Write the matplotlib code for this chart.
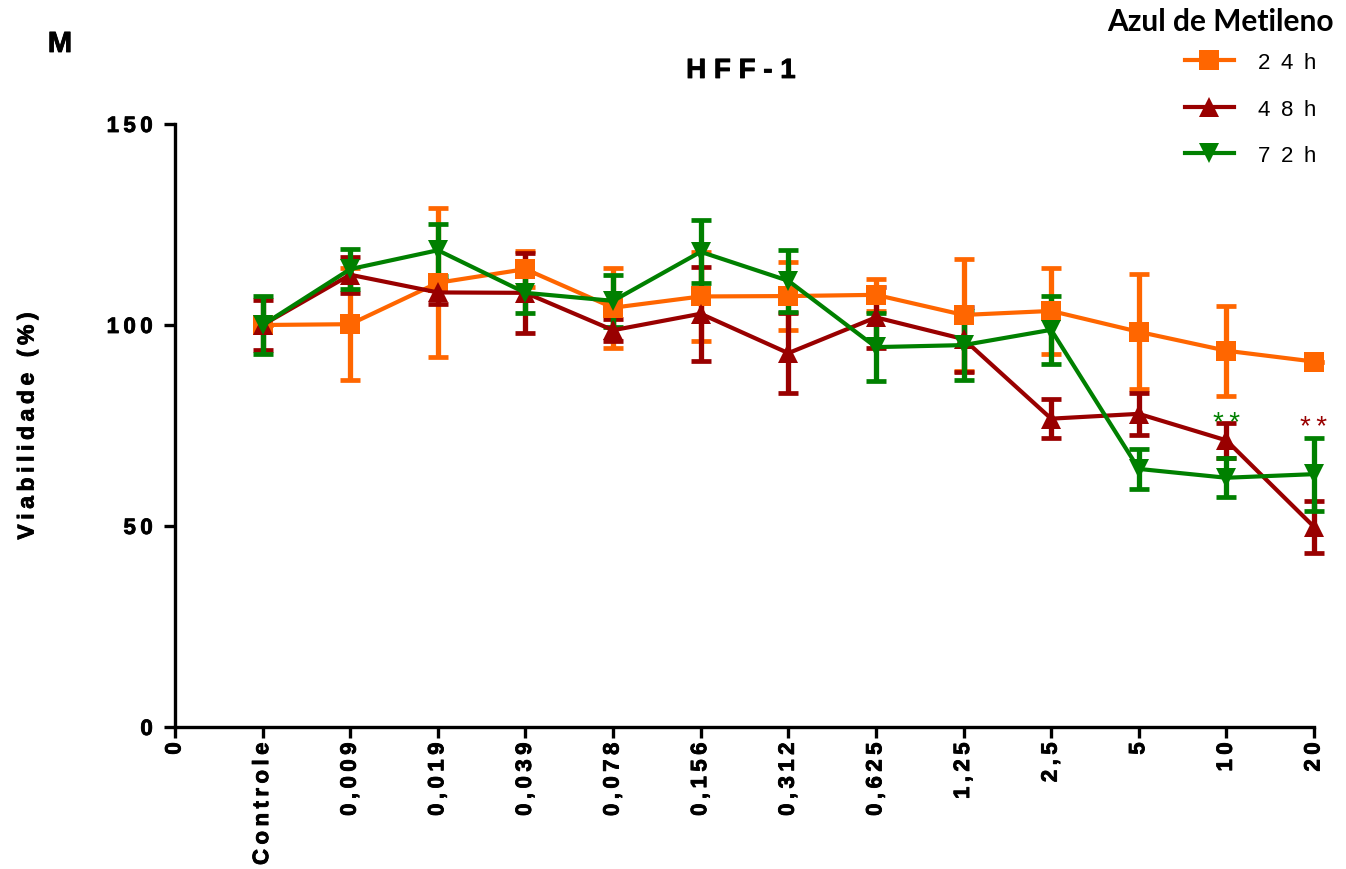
import numpy as np
import matplotlib
matplotlib.use("Agg")
import matplotlib.pyplot as plt
import matplotlib.patheffects as pe

# Concentrations (x categories) and viability data (mean, SD) per exposure time
categories = ["Controle", "0,009", "0,019", "0,039", "0,078", "0,156", "0,312",
              "0,625", "1,25", "2,5", "5", "10", "20"]
tick_labels = ["0"] + categories

mean_24h = [100, 100.2, 110.5, 113.9, 104.3, 107.1, 107.2, 107.5, 102.5, 103.5, 98.3, 93.6, 90.9]
sd_24h = [0, 14, 18.5, 4.5, 10, 11, 8.5, 4, 14, 10.8, 14.3, 11.2, 0]

mean_48h = [100, 112.5, 108.1, 108.0, 98.7, 102.8, 93.0, 101.9, 96.5, 76.7, 77.9, 71.3, 49.8]
sd_48h = [6.2, 4.5, 3, 10, 2.7, 11.7, 10, 7.5, 8.1, 4.9, 5.3, 4.3, 6.4]

mean_72h = [100, 113.9, 118.6, 108.0, 106.0, 118.2, 111.0, 94.5, 95.0, 98.8, 64.2, 62.0, 62.9]
sd_72h = [7.2, 5, 6.5, 5, 6.5, 7.8, 7.7, 8.4, 8.6, 8.5, 5, 4.8, 9.1]

series_labels = ["24h", "48h", "72h"]
colors = ["#FF6600", "#990000", "#008000"]
markers = ["s", "^", "v"]

# significance marks: (category index, baseline y value, series index)
signif = [(11, 74.0, 2), (12, 72.8, 1)]

FAM = ["Liberation Sans", "DejaVu Sans"]
plt.rcParams["font.family"] = FAM
heavy = [pe.withStroke(linewidth=0.6, foreground="black")]


def spaced(s, sep="\u2009"):
    return sep.join(s)


fig = plt.figure(figsize=(13.46, 8.70), dpi=100)
ax = fig.add_axes([175 / 1346, 1 - 728 / 870, (1314 - 175) / 1346, (728 - 125) / 870])

x = np.arange(1, len(categories) + 1)
means = [mean_24h, mean_48h, mean_72h]
sds = [sd_24h, sd_48h, sd_72h]

# error bars first, then connecting lines with markers on top
for i in range(3):
    eb = ax.errorbar(x, means[i], yerr=sds[i], fmt="none", ecolor=colors[i],
                     elinewidth=3.8, capsize=7, capthick=3.4, zorder=2 + i * 0.1)
    for art in list(eb.lines[1]) + list(eb.lines[2]):
        art.set_clip_on(False)
handles = []
for i in range(3):
    ln, = ax.plot(x, means[i], color=colors[i], lw=3.0, marker=markers[i],
                  markersize=14, markeredgewidth=0, zorder=3 + i * 0.1,
                  clip_on=False, label=spaced(series_labels[i], " \u2009"))
    handles.append(ln)

for idx, yv, si in signif:
    ax.text(x[idx], yv, "*\u2009*", color=colors[si], ha="center", va="baseline",
            fontsize=20, family=FAM, zorder=5)

ax.set_xlim(0, len(categories))
ax.set_ylim(0, 150)
ax.set_xticks(np.arange(0, len(categories) + 1))
ax.set_xticklabels([spaced(t) for t in tick_labels], rotation=90,
                   fontsize=16, fontweight="bold")
ax.set_yticks([0, 50, 100, 150])
ax.set_yticklabels([spaced(str(v)) for v in [0, 50, 100, 150]],
                   fontsize=16, fontweight="bold")
for t in ax.get_xticklabels() + ax.get_yticklabels():
    t.set_path_effects(heavy)

for side in ["top", "right"]:
    ax.spines[side].set_visible(False)
for side in ["left", "bottom"]:
    ax.spines[side].set_linewidth(2.4)
ax.tick_params(axis="both", which="major", length=8, width=2.4, direction="out")
ax.tick_params(axis="y", pad=8)
ax.tick_params(axis="x", pad=3)

fig.text(27 / 1346, 1 - 427 / 870, spaced("Viabilidade (%)"), rotation=90,
         ha="center", va="center", fontsize=16.5, fontweight="bold",
         path_effects=heavy)
fig.text(741 / 1346, 1 - 72 / 870, "H F F - 1", ha="center", va="center",
         fontsize=20, fontweight="bold", path_effects=heavy)
fig.text(60 / 1346, 1 - 45 / 870, "M", ha="center", va="center",
         fontsize=21, fontweight="bold", path_effects=heavy)

# legend title and entries
fig.text(1220 / 1346, 1 - 22 / 870, "Azul de Metileno", ha="center", va="center",
         fontsize=21.5, fontweight="bold", family=["Lato", "DejaVu Sans"])
leg = fig.legend(handles=handles, loc="upper left",
                 bbox_to_anchor=(1185 / 1346, 1 - 53 / 870), frameon=False,
                 fontsize=16, handlelength=2.2, handletextpad=1.1,
                 labelspacing=1.15, borderpad=0, borderaxespad=0)

fig.savefig("out.png", dpi=100)
